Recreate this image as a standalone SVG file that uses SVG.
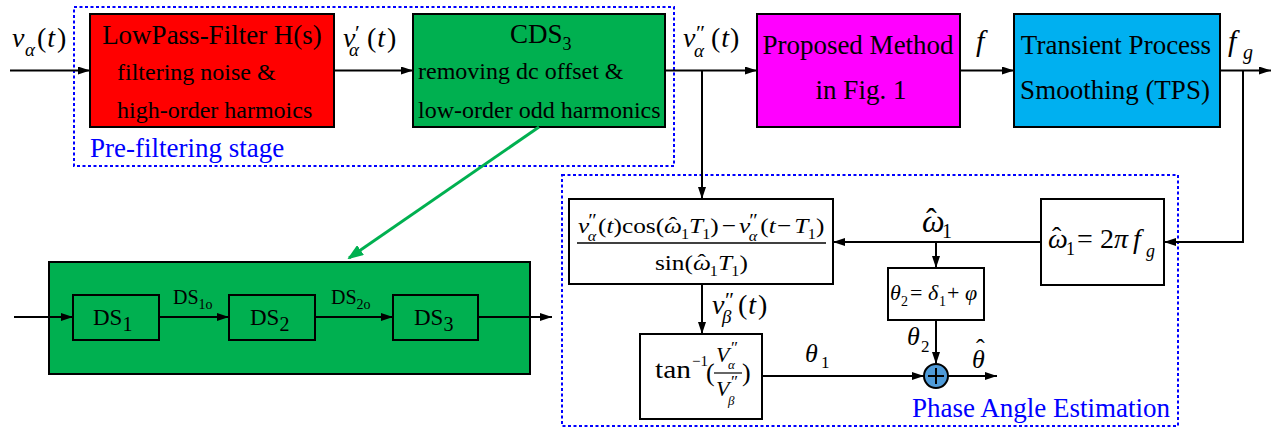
<svg xmlns="http://www.w3.org/2000/svg" width="1271" height="428" viewBox="0 0 1271 428" font-family="Liberation Serif, DejaVu Serif, serif">
<style>
text{font-family:'Liberation Serif','Times New Roman','DejaVu Serif',serif}
.t{fill:#000}
.i{font-style:italic}
.box{stroke:#000;stroke-width:2}
.ln{stroke:#000;stroke-width:2;fill:none}
.dash{fill:none;stroke:#0000FF;stroke-width:2;stroke-dasharray:3 2.5}
.blue{fill:#0000FF}
</style>
<defs>
<marker id="ah" markerWidth="12" markerHeight="8" refX="12" refY="4" orient="auto" markerUnits="userSpaceOnUse"><path d="M0,0 L12,4 L0,8 z" fill="#000"/></marker>
<marker id="ahg" markerWidth="16" markerHeight="12" refX="14" refY="6" orient="auto" markerUnits="userSpaceOnUse"><path d="M0,0 L16,6 L0,12 z" fill="#00B050"/></marker>
</defs>

<g id="prefilter-stage">
<rect class="dash" x="74" y="7" width="600" height="159"/>
<text class="t blue" x="90" y="157" font-size="27">Pre-filtering stage</text>
</g>
<g id="phase-stage">
<rect class="dash" x="562" y="175" width="616" height="251"/>
<text class="t blue" x="912" y="417" font-size="27">Phase Angle Estimation</text>
</g>

<g id="lpf">
<rect class="box" x="90" y="14" width="244" height="113" fill="#FF0000"/>
<text class="t" x="212" y="44" font-size="27" text-anchor="middle">LowPass-Filter H(s)</text>
<text class="t" x="117" y="80" font-size="24">filtering noise &amp;</text>
<text class="t" x="117" y="118" font-size="24">high-order harmoics</text>
</g>
<g id="cds3">
<rect class="box" x="413" y="14" width="252" height="113" fill="#00B050"/>
<text class="t" x="510" y="43" font-size="27">CDS<tspan font-size="18" dy="7">3</tspan></text>
<text class="t" x="418" y="79" font-size="24">removing dc offset &amp;</text>
<text class="t" x="418" y="118" font-size="24">low-order odd harmonics</text>
</g>
<g id="proposed">
<rect class="box" x="757" y="14" width="203" height="113" fill="#FF00FF"/>
<text class="t" x="858" y="54" font-size="27" text-anchor="middle">Proposed Method</text>
<text class="t" x="861" y="99" font-size="27" text-anchor="middle">in Fig. 1</text>
</g>
<g id="tps">
<rect class="box" x="1014" y="14" width="206" height="113" fill="#00B0F0"/>
<text class="t" x="1116" y="54" font-size="27" text-anchor="middle">Transient Process</text>
<text class="t" x="1115" y="99" font-size="27" text-anchor="middle">Smoothing (TPS)</text>
</g>

<g id="vbeta-calc">
<rect class="box" x="569" y="199" width="264" height="85" fill="#fff"/>
<g transform="translate(578,233) scale(1.15,1)">
<text class="t" font-size="22"><tspan class="i" x="0" y="0">v</tspan><tspan x="9" y="-6" font-size="18">″</tspan><tspan class="i" x="8.5" y="8" font-size="14">α</tspan><tspan x="17.5" y="0">(</tspan><tspan class="i">t</tspan><tspan>)cos(</tspan><tspan class="i" x="74.8" y="0">ω</tspan><tspan x="89.5" y="6" font-size="14">1</tspan><tspan class="i" x="96.5" y="0">T</tspan><tspan x="108" y="6" font-size="14">1</tspan><tspan x="115" y="0">)</tspan><tspan x="125" y="0">−</tspan><tspan class="i" x="140" y="0">v</tspan><tspan x="149" y="-6" font-size="18">″</tspan><tspan class="i" x="148.5" y="8" font-size="14">α</tspan><tspan x="158.5" y="0">(</tspan><tspan class="i">t</tspan><tspan x="173" y="0">−</tspan><tspan class="i" x="188" y="0">T</tspan><tspan x="199.7" y="6" font-size="14">1</tspan><tspan x="207" y="0">)</tspan></text>
<text class="t" font-size="22" x="79" y="-1">ˆ</text>
</g>
<line x1="577" y1="243" x2="826" y2="243" stroke="#000" stroke-width="1.5"/>
<g transform="translate(655,270) scale(1.15,1)">
<text class="t" font-size="22"><tspan x="0" y="0">sin(</tspan><tspan class="i" x="33" y="0">ω</tspan><tspan x="47.7" y="6" font-size="14">1</tspan><tspan class="i" x="54.7" y="0">T</tspan><tspan x="66.4" y="6" font-size="14">1</tspan><tspan x="73.4" y="0">)</tspan></text>
<text class="t" font-size="22" x="37" y="-1">ˆ</text>
</g>
</g>

<g id="omega-calc">
<rect class="box" x="1041" y="199" width="123" height="86" fill="#fff"/>
<text class="t i" x="1048" y="248" font-size="28">ω</text>
<text class="t" x="1052" y="246" font-size="28">ˆ</text>
<text class="t" x="1066" y="255" font-size="18">1</text>
<text class="t" x="1077" y="248" font-size="28">=</text>
<text class="t" x="1100" y="248" font-size="28">2</text>
<text class="t i" x="1114" y="248" font-size="28">π</text>
<text class="t i" x="1133" y="248" font-size="28">f</text>
<text class="t i" x="1146" y="257" font-size="18">g</text>
</g>

<g id="theta2-calc">
<rect class="box" x="888" y="268" width="96" height="52" fill="#fff"/>
<text class="t i" x="890" y="300" font-size="22">θ</text>
<text class="t" x="901" y="306" font-size="14">2</text>
<text class="t" x="910" y="300" font-size="22">=</text>
<text class="t i" x="928" y="300" font-size="22">δ</text>
<text class="t" x="939" y="306" font-size="14">1</text>
<text class="t" x="947" y="300" font-size="22">+</text>
<text class="t i" x="965" y="300" font-size="22">φ</text>
</g>

<g id="arctan">
<rect class="box" x="640" y="334" width="122" height="85" fill="#fff"/>
<text class="t" x="655" y="378" font-size="25" textLength="36" lengthAdjust="spacingAndGlyphs">tan</text>
<text class="t" x="692" y="366" font-size="15">−1</text>
<text class="t" x="706" y="381" font-size="26">(</text>
<text class="t i" x="716" y="362" font-size="22">V</text>
<text class="t" x="731" y="353" font-size="17">″</text>
<text class="t i" x="728" y="369" font-size="13">α</text>
<line x1="714" y1="373" x2="742" y2="373" stroke="#000" stroke-width="1.2"/>
<text class="t i" x="716" y="396" font-size="22">V</text>
<text class="t" x="731" y="387" font-size="17">″</text>
<text class="t i" x="728" y="405" font-size="13">β</text>
<text class="t" x="742" y="381" font-size="26">)</text>
</g>

<g id="sum">
<circle cx="936" cy="376" r="12" fill="#4F9BD9" stroke="#000" stroke-width="2"/>
<line x1="928" y1="376" x2="944" y2="376" stroke="#000" stroke-width="2"/>
<line x1="936" y1="368" x2="936" y2="384" stroke="#000" stroke-width="2"/>
</g>

<g id="ds-detail">
<rect class="box" x="49" y="262" width="481" height="112" fill="#00B050"/>
</g>
<g id="ds1">
<rect class="box" x="73" y="295" width="86" height="45" fill="#00B050"/>
<text class="t" x="93" y="325" font-size="23">DS<tspan font-size="20" dy="6">1</tspan></text>
</g>
<g id="ds2">
<rect class="box" x="229" y="295" width="86" height="45" fill="#00B050"/>
<text class="t" x="250" y="325" font-size="23">DS<tspan font-size="20" dy="6">2</tspan></text>
</g>
<g id="ds3">
<rect class="box" x="393" y="295" width="85" height="45" fill="#00B050"/>
<text class="t" x="414" y="325" font-size="23">DS<tspan font-size="20" dy="6">3</tspan></text>
</g>

<g id="connectors">
<line class="ln" x1="10" y1="70.5" x2="90" y2="70.5" marker-end="url(#ah)"/>
<line class="ln" x1="334" y1="70.5" x2="413" y2="70.5" marker-end="url(#ah)"/>
<line class="ln" x1="665" y1="70.5" x2="757" y2="70.5" marker-end="url(#ah)"/>
<line class="ln" x1="960" y1="70.5" x2="1014" y2="70.5" marker-end="url(#ah)"/>
<line class="ln" x1="1220" y1="70.5" x2="1271" y2="70.5" marker-end="url(#ah)"/>
<line class="ln" x1="702" y1="70.5" x2="702" y2="199" marker-end="url(#ah)"/>
<polyline class="ln" points="1243,70.5 1243,242 1164,242" marker-end="url(#ah)"/>
<line class="ln" x1="1041" y1="242" x2="833" y2="242" marker-end="url(#ah)"/>
<line class="ln" x1="936" y1="242" x2="936" y2="268" marker-end="url(#ah)"/>
<line class="ln" x1="702" y1="284" x2="702" y2="334" marker-end="url(#ah)"/>
<line class="ln" x1="762" y1="376" x2="924" y2="376" marker-end="url(#ah)"/>
<line class="ln" x1="936" y1="320" x2="936" y2="364" marker-end="url(#ah)"/>
<line class="ln" x1="948" y1="376" x2="997" y2="376" marker-end="url(#ah)"/>
<line x1="539" y1="127" x2="349" y2="258" stroke="#00B050" stroke-width="3" marker-end="url(#ahg)"/>
<line class="ln" x1="14" y1="317" x2="73" y2="317" marker-end="url(#ah)"/>
<line class="ln" x1="159" y1="317" x2="229" y2="317" marker-end="url(#ah)"/>
<line class="ln" x1="315" y1="317" x2="393" y2="317" marker-end="url(#ah)"/>
<line class="ln" x1="478" y1="317" x2="552" y2="317" marker-end="url(#ah)"/>
</g>

<g id="labels">
<text class="t" font-size="28"><tspan class="i" x="12" y="47">v</tspan><tspan class="i" x="25" y="56" font-size="19">α</tspan><tspan x="37" y="47">(</tspan><tspan class="i" dx="1">t</tspan><tspan dx="2">)</tspan></text>
<text class="t" font-size="28"><tspan class="i" x="343" y="47">v</tspan><tspan x="355" y="40" font-size="22">′</tspan><tspan class="i" x="349" y="56" font-size="19">α</tspan><tspan x="367" y="47">(</tspan><tspan class="i" dx="1">t</tspan><tspan dx="2">)</tspan></text>
<text class="t" font-size="28"><tspan class="i" x="683" y="47">v</tspan><tspan x="696" y="40" font-size="22">″</tspan><tspan class="i" x="694" y="57" font-size="19">α</tspan><tspan x="711" y="47">(</tspan><tspan class="i" dx="1">t</tspan><tspan dx="1">)</tspan></text>
<text class="t i" x="976" y="51" font-size="30">f</text>
<text class="t i" x="1228" y="51" font-size="30">f</text>
<text class="t i" x="1243" y="59" font-size="20">g</text>
<text class="t i" x="922" y="232" font-size="32">ω</text>
<text class="t" x="926" y="230" font-size="32">ˆ</text>
<text class="t" x="942" y="238" font-size="20">1</text>
<text class="t" font-size="28"><tspan class="i" x="712" y="314">v</tspan><tspan x="725" y="307" font-size="22">″</tspan><tspan class="i" x="722" y="323" font-size="19">β</tspan><tspan x="738" y="314">(</tspan><tspan class="i" dx="1">t</tspan><tspan dx="2">)</tspan></text>
<text class="t i" x="805" y="362" font-size="26">θ</text>
<text class="t" x="821" y="368" font-size="17">1</text>
<text class="t i" x="907" y="345" font-size="26">θ</text>
<text class="t" x="921" y="352" font-size="17">2</text>
<text class="t i" x="972" y="368" font-size="26">θ</text>
<text class="t" x="976" y="357" font-size="26">ˆ</text>
<text class="t" x="173" y="304" font-size="20">DS<tspan font-size="14" dy="5">1o</tspan></text>
<text class="t" x="331" y="304" font-size="20">DS<tspan font-size="14" dy="5">2o</tspan></text>
</g>
</svg>
